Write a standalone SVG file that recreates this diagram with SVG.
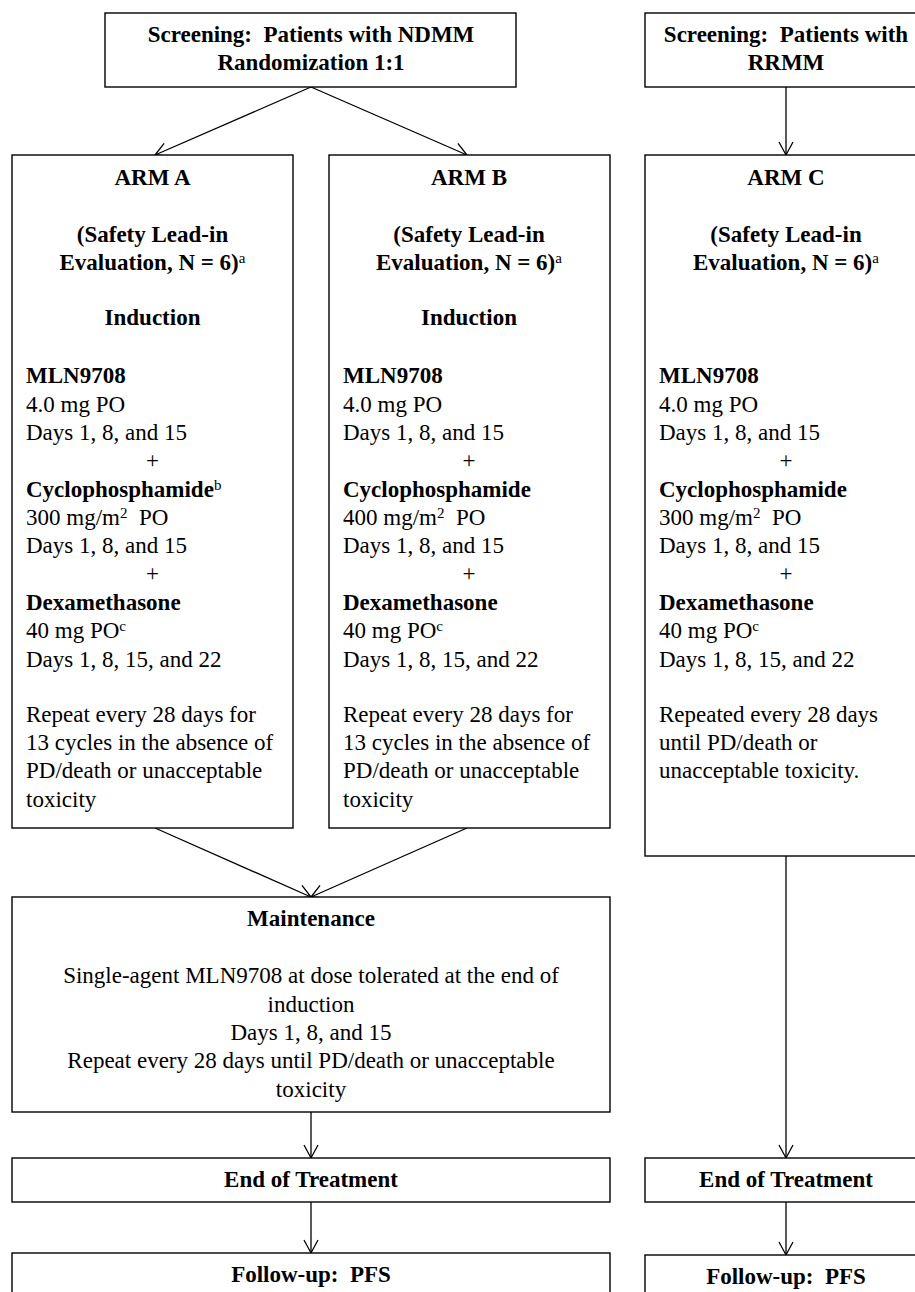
<svg xmlns="http://www.w3.org/2000/svg" width="915" height="1292" viewBox="0 0 915 1292">
<defs>
<marker id="arr" markerUnits="userSpaceOnUse" markerWidth="16" markerHeight="18" viewBox="-14 -9 16 18" refX="0" refY="0" orient="auto">
<path d="M-13,-7 L0,0 L-13,7" fill="none" stroke="#000" stroke-width="1.3"/>
</marker>
</defs>
<style>
text{font-family:"Liberation Serif","Times New Roman",serif;font-size:23px;fill:#000;white-space:pre}
.b{font-weight:bold}
.c{text-anchor:middle}
.box{fill:#fff;stroke:#000;stroke-width:1.4}
.ln{fill:none;stroke:#000;stroke-width:1.3;marker-end:url(#arr)}
.sup{font-size:15px}
</style>
<rect width="915" height="1292" fill="#fff"/>

<g id="connectors">
<line class="ln" x1="311" y1="87" x2="155" y2="155"/>
<line class="ln" x1="311" y1="87" x2="467" y2="155"/>
<line class="ln" x1="786" y1="87" x2="786" y2="155"/>
<line class="ln" x1="155" y1="828" x2="311" y2="897"/>
<line class="ln" x1="467" y1="828" x2="311" y2="897"/>
<line class="ln" x1="311" y1="1112" x2="311" y2="1158"/>
<line class="ln" x1="311" y1="1202" x2="311" y2="1253"/>
<line class="ln" x1="786" y1="856" x2="786" y2="1158"/>
<line class="ln" x1="786" y1="1202" x2="786" y2="1255"/>
</g>

<g id="screen-ndmm">
<rect class="box" x="105" y="13" width="411" height="74"/>
<text class="b c" x="311" y="42">Screening:  Patients with NDMM</text>
<text class="b c" x="311" y="70">Randomization 1:1</text>
</g>

<g id="screen-rrmm">
<rect class="box" x="645" y="13" width="282" height="74"/>
<text class="b c" x="786" y="42">Screening:  Patients with</text>
<text class="b c" x="786" y="70">RRMM</text>
</g>

<g id="arm-a">
<rect class="box" x="12" y="155" width="281" height="673"/>
<text class="b c" x="152.5" y="185">ARM A</text>
<text class="b c" x="152.5" y="242">(Safety Lead-in</text>
<text class="b c" x="152.5" y="270">Evaluation, N = 6)<tspan class="sup" dy="-7" font-weight="normal">a</tspan></text>
<text class="b c" x="152.5" y="325">Induction</text>
<text class="b" x="26" y="383">MLN9708</text>
<text x="26" y="412">4.0 mg PO</text>
<text x="26" y="440">Days 1, 8, and 15</text>
<text class="c" x="152.5" y="468">+</text>
<text class="b" x="26" y="497">Cyclophosphamide<tspan class="sup" dy="-7" font-weight="normal">b</tspan></text>
<text x="26" y="525">300 mg/m<tspan class="sup" dy="-7">2</tspan><tspan dy="7">  PO</tspan></text>
<text x="26" y="553">Days 1, 8, and 15</text>
<text class="c" x="152.5" y="581">+</text>
<text class="b" x="26" y="610">Dexamethasone</text>
<text x="26" y="638">40 mg PO<tspan class="sup" dy="-7">c</tspan></text>
<text x="26" y="667">Days 1, 8, 15, and 22</text>
<text x="26" y="722">Repeat every 28 days for</text>
<text x="26" y="750">13 cycles in the absence of</text>
<text x="26" y="778">PD/death or unacceptable</text>
<text x="26" y="807">toxicity</text>
</g>

<g id="arm-b">
<rect class="box" x="329" y="155" width="281" height="673"/>
<text class="b c" x="469" y="185">ARM B</text>
<text class="b c" x="469" y="242">(Safety Lead-in</text>
<text class="b c" x="469" y="270">Evaluation, N = 6)<tspan class="sup" dy="-7" font-weight="normal">a</tspan></text>
<text class="b c" x="469" y="325">Induction</text>
<text class="b" x="343" y="383">MLN9708</text>
<text x="343" y="412">4.0 mg PO</text>
<text x="343" y="440">Days 1, 8, and 15</text>
<text class="c" x="469" y="468">+</text>
<text class="b" x="343" y="497">Cyclophosphamide</text>
<text x="343" y="525">400 mg/m<tspan class="sup" dy="-7">2</tspan><tspan dy="7">  PO</tspan></text>
<text x="343" y="553">Days 1, 8, and 15</text>
<text class="c" x="469" y="581">+</text>
<text class="b" x="343" y="610">Dexamethasone</text>
<text x="343" y="638">40 mg PO<tspan class="sup" dy="-7">c</tspan></text>
<text x="343" y="667">Days 1, 8, 15, and 22</text>
<text x="343" y="722">Repeat every 28 days for</text>
<text x="343" y="750">13 cycles in the absence of</text>
<text x="343" y="778">PD/death or unacceptable</text>
<text x="343" y="807">toxicity</text>
</g>

<g id="arm-c">
<rect class="box" x="645" y="155" width="282" height="701"/>
<text class="b c" x="786" y="185">ARM C</text>
<text class="b c" x="786" y="242">(Safety Lead-in</text>
<text class="b c" x="786" y="270">Evaluation, N = 6)<tspan class="sup" dy="-7" font-weight="normal">a</tspan></text>
<text class="b" x="659" y="383">MLN9708</text>
<text x="659" y="412">4.0 mg PO</text>
<text x="659" y="440">Days 1, 8, and 15</text>
<text class="c" x="786" y="468">+</text>
<text class="b" x="659" y="497">Cyclophosphamide</text>
<text x="659" y="525">300 mg/m<tspan class="sup" dy="-7">2</tspan><tspan dy="7">  PO</tspan></text>
<text x="659" y="553">Days 1, 8, and 15</text>
<text class="c" x="786" y="581">+</text>
<text class="b" x="659" y="610">Dexamethasone</text>
<text x="659" y="638">40 mg PO<tspan class="sup" dy="-7">c</tspan></text>
<text x="659" y="667">Days 1, 8, 15, and 22</text>
<text x="659" y="722">Repeated every 28 days</text>
<text x="659" y="750">until PD/death or</text>
<text x="659" y="778">unacceptable toxicity.</text>
</g>

<g id="maintenance">
<rect class="box" x="12" y="897" width="598" height="215"/>
<text class="b c" x="311" y="926">Maintenance</text>
<text class="c" x="311" y="983">Single-agent MLN9708 at dose tolerated at the end of</text>
<text class="c" x="311" y="1012">induction</text>
<text class="c" x="311" y="1040">Days 1, 8, and 15</text>
<text class="c" x="311" y="1068">Repeat every 28 days until PD/death or unacceptable</text>
<text class="c" x="311" y="1097">toxicity</text>
</g>

<g id="eot-left">
<rect class="box" x="12" y="1158" width="598" height="44"/>
<text class="b c" x="311" y="1187">End of Treatment</text>
</g>

<g id="eot-right">
<rect class="box" x="645" y="1158" width="282" height="44"/>
<text class="b c" x="786" y="1187">End of Treatment</text>
</g>

<g id="followup-left">
<rect class="box" x="12" y="1253" width="598" height="60"/>
<text class="b c" x="311" y="1282">Follow-up:  PFS</text>
</g>

<g id="followup-right">
<rect class="box" x="645" y="1255" width="282" height="60"/>
<text class="b c" x="786" y="1284">Follow-up:  PFS</text>
</g>
</svg>
